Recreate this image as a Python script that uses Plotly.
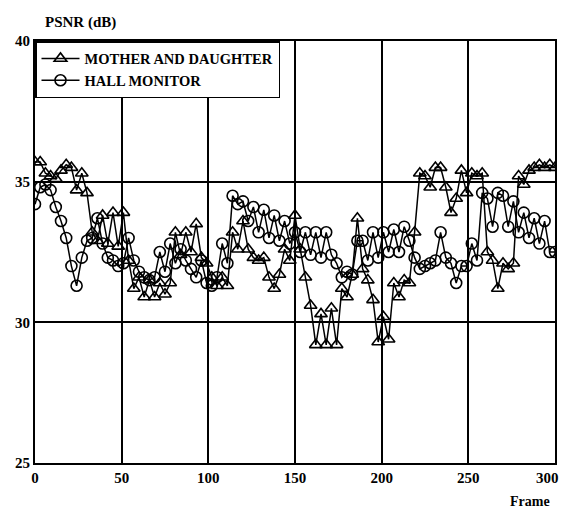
import plotly.graph_objects as go

frames = [0, 3, 6, 9, 12, 15, 18, 21, 24, 27, 30, 33, 36, 39, 42, 45, 48, 51, 54, 57,
          60, 63, 66, 69, 72, 75, 78, 81, 84, 87, 90, 93, 96, 99, 102, 105, 108, 111, 114, 117,
          120, 123, 126, 129, 132, 135, 138, 141, 144, 147, 150, 153, 156, 159, 162, 165, 168, 171, 174, 177,
          180, 183, 186, 189, 192, 195, 198, 201, 204, 207, 210, 213, 216, 219, 222, 225, 228, 231, 234, 237,
          240, 243, 246, 249, 252, 255, 258, 261, 264, 267, 270, 273, 276, 279, 282, 285, 288, 291, 294, 297, 300]

mother_daughter = [35.7, 35.7, 35.3, 35.2, 35.1, 35.4, 35.6, 35.5, 34.7, 35.3,
                   34.6, 33.2, 32.9, 33.8, 32.8, 33.9, 32.7, 33.9, 32.2, 31.2,
                   31.6, 30.9, 31.5, 30.9, 31.4, 31.0, 31.4, 33.2, 32.4, 33.2,
                   32.5, 33.5, 32.3, 32.1, 31.6, 31.3, 31.6, 31.3, 33.2, 32.6,
                   33.6, 32.6, 32.3, 32.2, 32.3, 31.6, 31.2, 31.7, 32.6, 32.2,
                   33.8, 32.6, 31.6, 30.6, 29.2, 30.3, 29.2, 30.5, 29.2, 31.2,
                   30.9, 31.7, 33.7, 31.9, 31.5, 30.8, 29.3, 30.2, 29.4, 31.4,
                   30.9, 31.5, 31.4, 33.2, 35.3, 35.2, 34.8, 35.5, 35.5, 34.8,
                   33.9, 34.4, 35.4, 34.6, 35.3, 35.2, 35.3, 32.5, 32.2, 31.2,
                   32.1, 31.9, 32.1, 35.2, 34.9, 35.4, 35.5, 35.6, 35.5, 35.6, 35.5]

hall_monitor = [34.2, 34.8, 34.9, 34.7, 34.1, 33.6, 33.0, 32.0, 31.3, 32.3,
                32.9, 33.0, 33.7, 32.8, 32.3, 32.2, 32.0, 32.1, 33.0, 32.2,
                31.8, 31.6, 31.5, 31.6, 32.5, 31.8, 32.8, 32.1, 32.6, 32.2,
                31.9, 31.6, 32.2, 31.4, 31.3, 31.6, 32.8, 32.1, 34.5, 34.2,
                34.3, 33.6, 34.1, 33.2, 34.0, 33.0, 33.8, 32.9, 33.6, 32.8,
                33.2, 32.5, 33.2, 32.4, 33.2, 32.3, 33.2, 32.4, 32.1, 31.6,
                31.8, 31.7, 32.9, 32.9, 32.2, 33.2, 32.3, 33.2, 32.5, 33.3,
                32.5, 33.4, 32.9, 32.3, 31.9, 32.0, 32.1, 32.2, 33.2, 32.3,
                32.1, 31.4, 32.0, 32.0, 32.8, 32.2, 34.6, 34.4, 33.4, 34.6,
                34.5, 33.4, 34.3, 33.2, 33.9, 33.0, 33.7, 32.8, 33.6, 32.5, 32.5]

series_names = ["MOTHER AND DAUGHTER", "HALL MONITOR"]
x_ticks = [0, 50, 100, 150, 200, 250, 300]
x_tick_labels = ["0", "50", "100", "150", "200", "250", "300"]
y_ticks = [25, 30, 35, 40]

SERIF = "Liberation Serif"

fig = go.Figure()
fig.add_trace(go.Scatter(
    x=frames, y=mother_daughter, name=series_names[0], mode="lines+markers",
    line=dict(color="black", width=1.5),
    marker=dict(symbol="triangle-up-open", size=11, color="black", line=dict(width=1.6)),
))
fig.add_trace(go.Scatter(
    x=frames, y=hall_monitor, name=series_names[1], mode="lines+markers",
    line=dict(color="black", width=1.5),
    marker=dict(symbol="circle-open", size=11, color="black", line=dict(width=1.6)),
))

tick_font = dict(family=SERIF, size=15, color="black", weight="bold")
axis_common = dict(
    showgrid=True, gridcolor="black", gridwidth=1.5,
    showline=True, linecolor="black", linewidth=2, mirror=True,
    ticks="", zeroline=False, automargin=False,
    tickfont=tick_font,
)

# the last x tick label sits at the page edge; draw it as a right-aligned annotation
shown_x_labels = x_tick_labels[:-1] + [""]

fig.update_layout(
    width=562, height=509,
    margin=dict(l=35, r=7, t=41, b=46, autoexpand=False),
    paper_bgcolor="white", plot_bgcolor="white",
    showlegend=True,
    legend=dict(
        x=0, y=1, xanchor="left", yanchor="top",
        bgcolor="white", bordercolor="black", borderwidth=1.5,
        font=dict(family=SERIF, size=14.5, color="black", weight="bold"),
        tracegroupgap=0, itemwidth=38,
    ),
    xaxis=dict(range=[0, 300], tickvals=x_ticks, ticktext=shown_x_labels, **axis_common),
    yaxis=dict(range=[25, 40], tickvals=y_ticks, **axis_common),
    annotations=[
        dict(text="PSNR (dB)", xref="paper", yref="paper", x=0.015, y=1.045,
             xanchor="left", yanchor="middle", showarrow=False,
             font=dict(family=SERIF, size=15, color="black", weight="bold")),
        dict(text="Frame", xref="paper", yref="paper", x=0.994, y=-0.092,
             xanchor="right", yanchor="middle", showarrow=False,
             font=dict(family=SERIF, size=14, color="black", weight="bold")),
        dict(text=x_tick_labels[-1], xref="x", yref="paper", x=x_ticks[-1], y=-0.0355,
             xanchor="right", yanchor="middle", xshift=6, showarrow=False,
             font=tick_font),
    ],
)

fig.write_html("out.html")
